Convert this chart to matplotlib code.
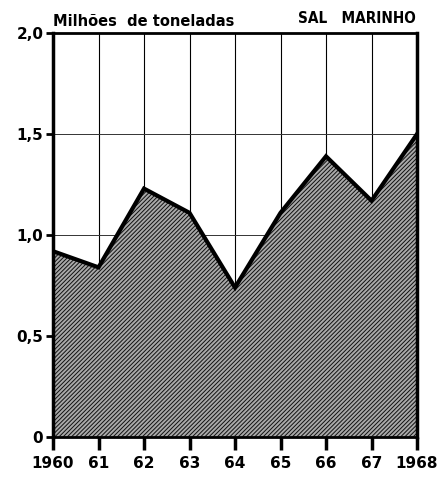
import numpy as np
import matplotlib
matplotlib.use("Agg")
import matplotlib.pyplot as plt

years = [1960, 1961, 1962, 1963, 1964, 1965, 1966, 1967, 1968]
year_labels = ["1960", "61", "62", "63", "64", "65", "66", "67", "1968"]
production = [0.92, 0.84, 1.23, 1.11, 0.74, 1.11, 1.39, 1.17, 1.50]
y_ticks = [0, 0.5, 1.0, 1.5, 2.0]
y_labels = ["0", "0,5", "1,0", "1,5", "2,0"]

plt.rcParams['hatch.linewidth'] = 0.7
fig = plt.figure(figsize=(4.47, 4.8), dpi=100)
ax = fig.add_axes([0.1186, 0.0896, 0.8143, 0.8414])

# grid drawn first, the fill covers it
for yr in years:
    ax.axvline(yr, color="black", lw=0.8, zorder=1)
for yv in [1.0, 1.5]:
    ax.axhline(yv, color="#333333", lw=0.7, zorder=1)

ax.fill_between(years, production, 0, facecolor="#a9a9a9", edgecolor="#111111",
                hatch="////////", lw=0, zorder=2)
ax.plot(years, production, color="black", lw=3, solid_joinstyle="miter", zorder=3)

ax.set_xlim(1960, 1968)
ax.set_ylim(0, 2.0)
ax.set_xticks(years)
ax.set_xticklabels(year_labels, fontsize=11, fontweight="bold")
ax.set_yticks(y_ticks)
ax.set_yticklabels(y_labels, fontsize=11, fontweight="bold")
ax.tick_params(axis="x", direction="out", length=9, width=2.5, pad=5)
ax.tick_params(axis="y", direction="out", length=5, width=2, pad=2)

for s in ["left", "right", "top"]:
    ax.spines[s].set_linewidth(2.5)
ax.spines["top"].set_linewidth(2)
ax.spines["bottom"].set_linewidth(2)

fig.text(0.118, 0.94, "Milhões  de toneladas", fontsize=10.5, fontweight="bold",
         ha="left", va="bottom")
fig.text(0.93, 0.945, "SAL   MARINHO", fontsize=11, ha="right", va="bottom",
         family="DejaVu Sans", fontstretch="condensed", fontweight="bold")

fig.savefig("out.png", dpi=100)
